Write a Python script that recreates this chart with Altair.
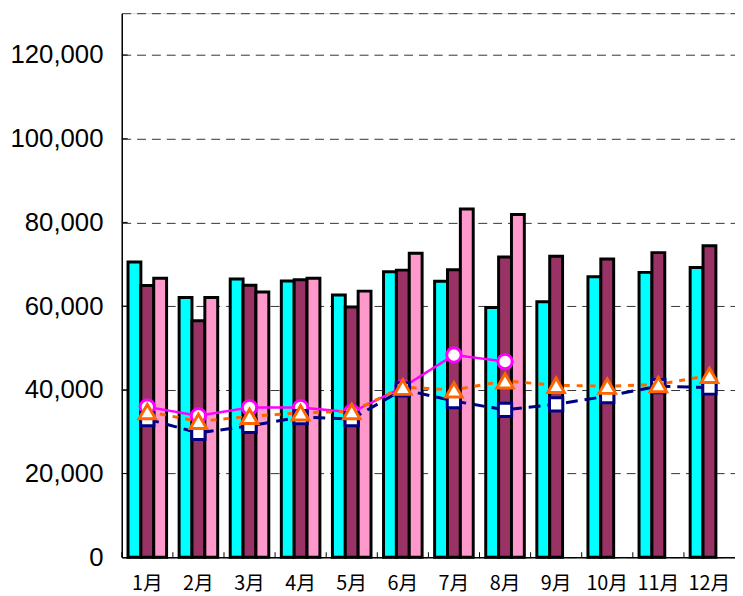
import altair as alt
import pandas as pd

months = ["1月", "2月", "3月", "4月", "5月", "6月", "7月", "8月", "9月", "10月", "11月", "12月"]
series_names = ["A", "B", "C"]
bar_a = [70560, 62080, 66480, 66010, 62640, 68210, 65940, 59650, 61060, 67030, 68060, 69240]
bar_b = [64900, 56510, 65000, 66320, 59810, 68600, 68680, 71740, 71900, 71270, 72780, 74430]
bar_c = [66650, 62080, 63350, 66650, 63580, 72610, 83220, 81880]
line_circle = [35900, 33800, 35760, 35760, 34650, 40600, 48330, 46750]
line_tri = [34800, 32460, 33640, 34510, 34820, 40620, 40000, 42130, 41090, 40860, 41260, 43450]
line_sq = [33000, 29700, 31360, 33480, 33000, 40080, 37320, 35200, 36540, 38500, 40860, 40550]
y_ticks = [0, 20000, 40000, 60000, 80000, 100000, 120000, 130000]

bar_rows = []
for name, vals in zip(series_names, [bar_a, bar_b, bar_c]):
    for m, v in zip(months, vals):
        bar_rows.append({"month": m, "series": name, "value": v})
bars_df = pd.DataFrame(bar_rows)

circ_df = pd.DataFrame({"month": months[:len(line_circle)], "value": line_circle})
tri_df = pd.DataFrame({"month": months, "value": line_tri})
sq_df = pd.DataFrame({"month": months, "value": line_sq})
tick_df = pd.DataFrame({"value": y_ticks[1:-1]})
mtick_df = pd.DataFrame({"month": months})

xscale = alt.Scale(domain=months, paddingInner=0.245, paddingOuter=0.1225)
yscale = alt.Scale(domain=[0, 130000], nice=False)

xaxis = alt.Axis(title=None, labelAngle=0, ticks=False, grid=False,
                 labelFont="Noto Sans CJK JP", labelFontSize=20,
                 labelColor="black", labelPadding=17,
                 domainColor="black", domainWidth=1.5)
yaxis = alt.Axis(title=None, values=y_ticks, ticks=False,
                 labelExpr="datum.value >= 130000 ? '' : format(datum.value, ',')",
                 labelFont="Liberation Sans", labelFontSize=26,
                 labelColor="black", labelPadding=19,
                 domainColor="black", domainWidth=1.5,
                 grid=True, gridColor="#333333", gridDash=[9, 6],
                 gridWidth=1)

def X():
    return alt.X("month:N", sort=months, scale=xscale, axis=xaxis)

def Y():
    return alt.Y("value:Q", scale=yscale, axis=yaxis)

bars = alt.Chart(bars_df).mark_bar(stroke="black", strokeWidth=3).encode(
    x=X(),
    xOffset=alt.XOffset("series:N", scale=alt.Scale(domain=series_names, paddingInner=0, paddingOuter=0)),
    y=Y(),
    color=alt.Color("series:N", scale=alt.Scale(domain=series_names,
                    range=["#00FFFF", "#993366", "#FF99CC"]), legend=None),
)

def line_layer(df, color, dash, shape, size, lw):
    ln = alt.Chart(df).mark_line(color=color, strokeWidth=lw, strokeDash=dash).encode(
        x=X(), y=Y())
    pt = alt.Chart(df).mark_point(shape=shape, size=size, filled=True, fill="white",
                                  stroke=color, strokeWidth=3, opacity=1).encode(
        x=X(), y=Y())
    return ln, pt

c_ln, c_pt = line_layer(circ_df, "#FF00FF", [1, 0], "circle", 210, 2.5)
s_ln, s_pt = line_layer(sq_df, "#000080", [12, 7], "square", 180, 3)
t_ln, t_pt = line_layer(tri_df, "#FF6600", [6, 7], "triangle-up", 280, 3)

yt = alt.Chart(tick_df).mark_rule(color="black", strokeWidth=1).encode(
    y=Y(), x=alt.value(0), x2=alt.value(6))
xt = alt.Chart(mtick_df).mark_rule(color="black", strokeWidth=1).encode(
    x=alt.X("month:N", sort=months, scale=xscale, axis=xaxis, bandPosition=0),
    xOffset=alt.value(-6.3),
    y=alt.value(550), y2=alt.value(545))

chart = alt.layer(bars, yt, xt, c_ln, s_ln, t_ln, c_pt, s_pt, t_pt).properties(
    width=620, height=550,
    autosize=alt.AutoSizeParams(type="none"),
    padding={"left": 115, "top": 2, "right": 0, "bottom": 36},
).configure_view(stroke=None).configure(background="white")

chart.save("out.html", embed_options={"renderer": "svg", "actions": False})
